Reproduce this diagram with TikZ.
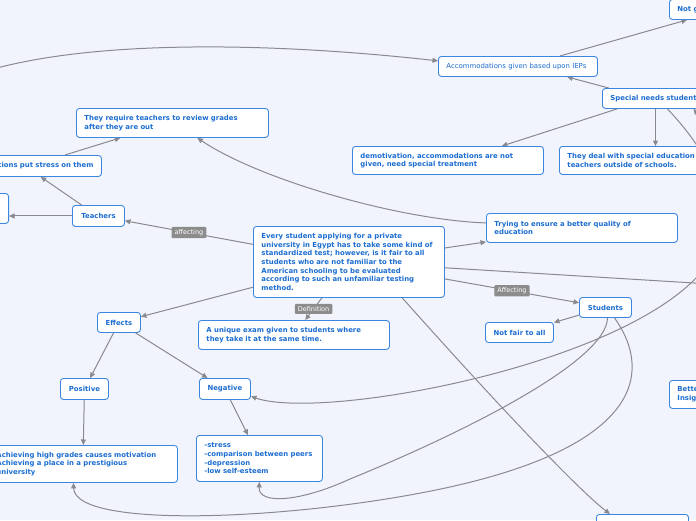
\documentclass[tikz,border=0pt]{standalone}
\usepackage{fontspec}
\setmainfont{DejaVu Sans}
\usetikzlibrary{arrows.meta,backgrounds}
\definecolor{PageBg}{HTML}{F1F4FD}
\definecolor{NodeRule}{HTML}{3A86E0}
\definecolor{NodeInk}{HTML}{1C6DD0}
\definecolor{LinkGray}{HTML}{8A8A8E}
\definecolor{LabelGray}{HTML}{8C8C8C}

\begin{document}
\begin{tikzpicture}[x=1pt, y=-1pt,
  box/.style={rounded corners=3pt, fill=white, draw=NodeRule, line width=0.9pt,
              align=left, inner xsep=8pt, inner ysep=3pt, text=NodeInk,
              font=\bfseries\fontsize{6.9}{8.6}\selectfont},
  plainbox/.style={box, font=\fontsize{6.9}{8.6}\selectfont},
  wordbox/.style={box, align=center, minimum height=21pt},
  lbl/.style={fill=LabelGray, text=white, rounded corners=1pt,
              inner xsep=3pt, inner ysep=2.5pt, font=\fontsize{6.5}{7.5}\selectfont},
  link/.style={draw=LinkGray, line width=1pt, -{Triangle[length=5.5pt,width=5pt]}}]
  \useasboundingbox (0,0) rectangle (696,520);
  \clip (0,0) rectangle (696,520);

  % main question
  \node[box, anchor=north west, text width=175pt, minimum height=71pt] (central) at (253,226)
    {Every student applying for a private\\university in Egypt has to take some kind of\\standardized test; however, is it fair to all\\students who are not familiar to the\\American schooling to be evaluated\\according to such an unfamiliar testing\\method.};

  % upper right branch
  \node[box, anchor=north west, text width=44pt, minimum height=20pt] (notg) at (669,-1) {Not g};
  \node[plainbox, anchor=north west, text width=143pt, minimum height=20pt] (accom) at (438,56)
    {Accommodations given based upon IEPs};
  \node[box, anchor=north west, text width=104pt, minimum height=20pt] (special) at (602,88)
    {Special needs student};
  \node[box, anchor=north west, text width=175pt, minimum height=28pt] (demot) at (352,146)
    {demotivation, accommodations are not\\given, need special treatment};
  \node[box, anchor=north west, text width=150pt, minimum height=28pt] (deal) at (559,146)
    {They deal with special education\\teachers outside of schools.};
  \node[box, anchor=north west, text width=175pt, minimum height=29pt] (trying) at (486,213)
    {Trying to ensure a better quality of\\education};

  % teachers branch
  \node[box, anchor=north west, text width=176pt, minimum height=29pt] (require) at (76,108)
    {They require teachers to review grades\\after they are out};
  \node[box, anchor=north west, align=right, text width=145pt, minimum height=21pt] (stressthem) at (-60,155)
    {tions put stress on them};
  \node[box, anchor=north east, minimum width=40pt, minimum height=30pt] (leftbox) at (9,193) {};
  \node[wordbox, anchor=north west, minimum width=52pt] (teachers) at (72,205) {Teachers};

  % students branch
  \node[wordbox, anchor=north west, minimum width=52pt, minimum height=20pt] (students) at (579,297) {Students};
  \node[wordbox, anchor=north west, minimum width=68pt, minimum height=20pt] (notfair) at (485,322) {Not fair to all};
  \node[box, anchor=north west, text width=44pt, minimum height=28pt] (better) at (669,380) {Bette\\Insig};
  \node[box, anchor=north west, minimum width=92pt, minimum height=20pt] (bottombox) at (596,514) {};

  % definition and effects
  \node[box, anchor=north west, text width=175pt, minimum height=29pt] (unique) at (198,320)
    {A unique exam given to students where\\they take it at the same time.};
  \node[wordbox, anchor=north west, minimum width=43pt, minimum height=20pt] (effects) at (97,312) {Effects};
  \node[wordbox, anchor=north west, minimum width=48pt] (positive) at (60,378) {Positive};
  \node[wordbox, anchor=north west, minimum width=51pt] (negative) at (199,378) {Negative};
  \node[box, anchor=north west, text width=173pt, minimum height=37pt] (achieve) at (-12,445)
    {Achieving high grades causes motivation\\Achieving a place in a prestigious\\university};
  \node[box, anchor=north west, text width=110pt, minimum height=46pt] (stresslist) at (196,435)
    {-stress\\-comparison between peers\\-depression\\-low self-esteem};

  \coordinate (leftout) at (-40,80);
  \coordinate (rightout) at (760,287);
  \coordinate (cornerout) at (706,124);

  \begin{scope}[on background layer]
    \fill[PageBg] (0,0) rectangle (696,520);
    \clip (0,0) rectangle (696,520);
    \draw[link] (leftout) .. controls (60,40) and (250,40) .. (accom.176.4);
    \draw[link] (accom.14.2) -- (notg.-140.2);
    \draw[link] (special.169.5) -- (accom.-12.4);
    \draw[link] (special.193.4) -- (demot.15.8);
    \draw[link] ([xshift=-7pt]special.south) -- ([xshift=-7pt]special.south |- deal.north);
    \draw[link] (cornerout) -- ([xshift=31pt]special.south);
    \draw[link] ([xshift=5pt]special.south) .. controls (730,175) and (740,236) .. (692,282)
      .. controls (600,370) and (320,420) .. (negative.-16.4);
    \draw[link] (central) -- (trying);
    \draw[link] (trying.177) .. controls (400,220) and (260,180) .. (require.-31.1);
    \draw[link] (central) -- (rightout);
    \draw[link] (central) -- node[lbl] {Affecting} (students);
    \draw[link] (students) -- (notfair);
    \draw[link] ([xshift=2pt]students.south) .. controls (607,360) and (470,430) .. (350,479)
      .. controls (300,502) and (258,505) .. (stresslist.south);
    \draw[link] ([xshift=9pt]students.south) .. controls (645,360) and (660,440) .. (450,487)
      .. controls (300,520) and (75,530) .. ([xshift=-9.5pt]achieve.south);
    \draw[link] (central.-34) .. controls (520,430) and (585,495) .. ([xshift=14pt]bottombox.north west);
    \draw[link] (central) -- node[lbl] {affecting} (teachers);
    \draw[link] (teachers.west) -- (teachers.west -| leftbox.east);
    \draw[link] (teachers.147) -- (stressthem.-29.6);
    \draw[link] (stressthem.14.5) -- (require.196.5);
    \draw[link] (central) -- node[lbl] {Definition} (unique);
    \draw[link] (central) -- (effects);
    \draw[link] (effects) -- (positive);
    \draw[link] (effects) -- (negative);
    \draw[link] (positive) -- (achieve);
    \draw[link] (negative) -- (stresslist);
  \end{scope}
\end{tikzpicture}
\end{document}
